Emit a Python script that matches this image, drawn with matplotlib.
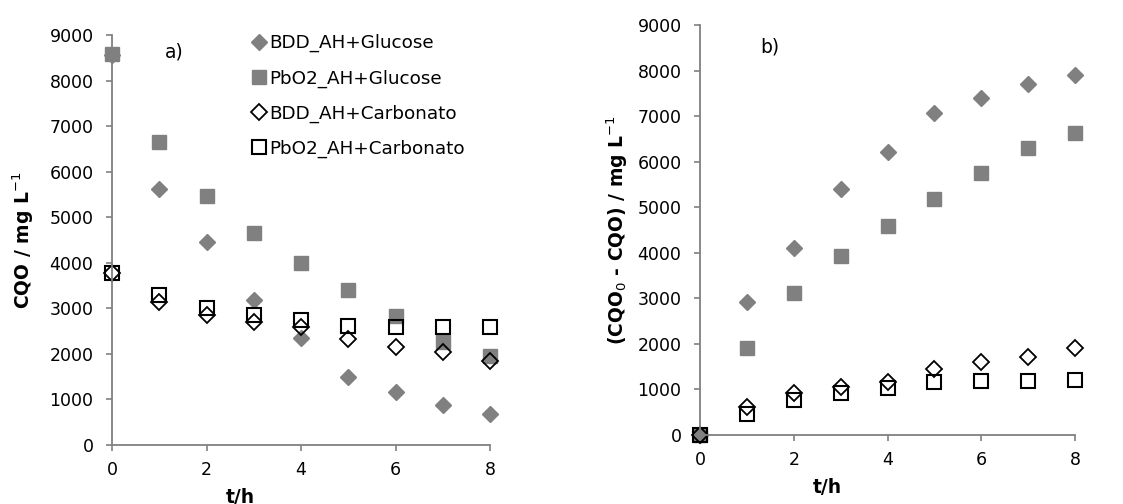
import matplotlib
matplotlib.use("Agg")
import matplotlib.pyplot as plt

# tempo de eletrólise (h)
t = [0, 1, 2, 3, 4, 5, 6, 7, 8]

# a) CQO ao longo do tempo (mg/L)
cqo_bdd_glucose = [8570, 5630, 4460, 3180, 2340, 1500, 1170, 880, 670]
cqo_pbo2_glucose = [8580, 6660, 5460, 4650, 3990, 3400, 2830, 2270, 1960]
cqo_bdd_carbonato = [3770, 3150, 2850, 2710, 2600, 2320, 2160, 2050, 1850]
cqo_pbo2_carbonato = [3770, 3290, 3000, 2850, 2740, 2610, 2580, 2580, 2580]

# b) CQO removida (CQO0 - CQO) (mg/L)
rem_bdd_glucose = [0, 2930, 4110, 5400, 6220, 7060, 7400, 7700, 7900]
rem_pbo2_glucose = [0, 1910, 3120, 3930, 4580, 5170, 5760, 6310, 6620]
rem_bdd_carbonato = [0, 620, 920, 1060, 1170, 1440, 1610, 1720, 1920]
rem_pbo2_carbonato = [0, 470, 770, 920, 1030, 1160, 1190, 1190, 1200]

nomes = ['BDD_AH+Glucose', 'PbO2_AH+Glucose', 'BDD_AH+Carbonato', 'PbO2_AH+Carbonato']

plt.rcParams['font.family'] = ['DejaVu Sans']
cinza = '#808080'

fig = plt.figure(figsize=(11.23, 5.04), dpi=100)
ax1 = fig.add_axes([112 / 1123, 59 / 504, 378 / 1123, 410 / 504])
ax2 = fig.add_axes([700 / 1123, 69 / 504, 375 / 1123, 410 / 504])


def desenha(ax, series):
    estilos = [
        dict(marker='D', ms=8.3, mfc=cinza, mec=cinza),
        dict(marker='s', ms=10, mfc=cinza, mec=cinza),
        dict(marker='D', ms=8.3, mfc='none', mec='black', mew=1.3),
        dict(marker='s', ms=10, mfc='none', mec='black', mew=1.5),
    ]
    for y, nome, est in zip(series, nomes, estilos):
        ax.plot(t, y, linestyle='none', label=nome, clip_on=False, **est)
    ax.set_xlim(0, 8)
    ax.set_ylim(0, 9000)
    ax.set_xticks([0, 2, 4, 6, 8])
    ax.set_yticks(range(0, 9001, 1000))
    for s in ['top', 'right']:
        ax.spines[s].set_visible(False)
    for s in ['left', 'bottom']:
        ax.spines[s].set_color(cinza)
        ax.spines[s].set_linewidth(1.3)
    ax.tick_params(direction='out', length=4.3, width=1.2, color=cinza,
                   labelsize=12.5)
    ax.tick_params(axis='y', pad=9)
    ax.tick_params(axis='x', pad=7)


desenha(ax1, [cqo_bdd_glucose, cqo_pbo2_glucose, cqo_bdd_carbonato, cqo_pbo2_carbonato])
desenha(ax2, [rem_bdd_glucose, rem_pbo2_glucose, rem_bdd_carbonato, rem_pbo2_carbonato])

ax1.set_ylabel('CQO / mg L$^{-1}$', fontsize=13.5, fontweight='bold')
ax1.yaxis.set_label_coords(-0.235, 0.5)
ax1.yaxis.label.set_va('center')
ax1.set_xlabel('t/h', fontsize=13.5, fontweight='bold')
ax1.xaxis.set_label_coords(0.34, -0.127)
ax1.xaxis.label.set_va('center')

ax2.set_ylabel('(CQO$_0$ - CQO) / mg L$^{-1}$', fontsize=13.5, fontweight='bold')
ax2.yaxis.set_label_coords(-0.221, 0.5)
ax2.yaxis.label.set_va('center')
ax2.set_xlabel('t/h', fontsize=13.5, fontweight='bold')
ax2.xaxis.set_label_coords(0.339, -0.127)
ax2.xaxis.label.set_va('center')

ax1.text(1.12, 8630, 'a)', fontsize=13.5, va='center', ha='left')
ax2.text(1.28, 8520, 'b)', fontsize=13.5, va='center', ha='left')

ax1.legend(loc='upper left', bbox_to_anchor=(0.355, 1.02), frameon=False,
           fontsize=13.2, handlelength=0.6, handletextpad=0.25,
           labelspacing=0.92, borderaxespad=0)

fig.savefig('out.png', dpi=100)
